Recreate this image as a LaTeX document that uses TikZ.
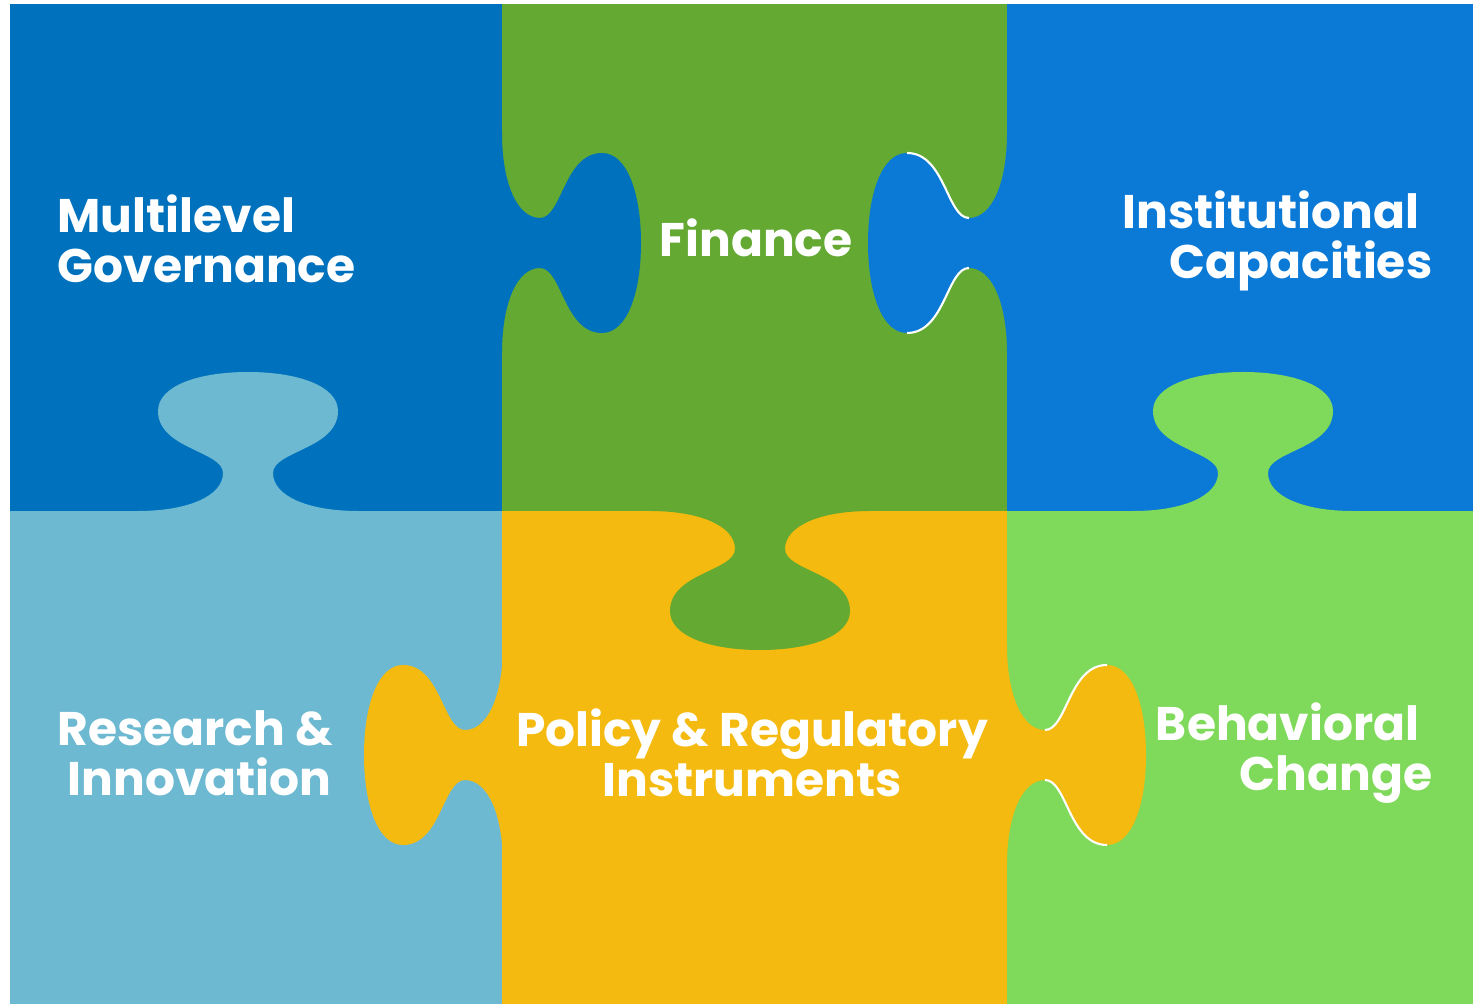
\documentclass[tikz,border=0pt]{standalone}
\usepackage{fontspec}
\setmainfont{Poppins}[BoldFont=* Bold]
\usepackage{tikz}
\usetikzlibrary{positioning,calc}

\definecolor{govblue}{HTML}{0071BC}
\definecolor{fingreen}{HTML}{63A932}
\definecolor{instblue}{HTML}{0B7AD6}
\definecolor{reslight}{HTML}{6DB9D1}
\definecolor{polyellow}{HTML}{F5BA0F}
\definecolor{behgreen}{HTML}{7FD95A}

% one puzzle tab, pointing up, base centred on the origin
\newcommand{\tabshape}{(-110,3) -- (-110,0)
  .. controls (-60,0) and (-25,-15) .. (-25,-38)
  .. controls (-25,-60) and (-90,-62) .. (-90,-100)
  .. controls (-90,-125) and (-50,-139) .. (0,-139)
  .. controls (50,-139) and (90,-125) .. (90,-100)
  .. controls (90,-62) and (25,-60) .. (25,-38)
  .. controls (25,-15) and (60,0) .. (110,0) -- (110,3) -- cycle}
\newcommand{\tabedges}{(-25,-38) .. controls (-25,-60) and (-90,-62) .. (-90,-100)
  (25,-38) .. controls (25,-60) and (90,-62) .. (90,-100)}

\tikzset{
  piecelabel/.style={text=white, inner sep=0pt,
    font=\bfseries\fontsize{13.4pt}{14.2pt}\selectfont},
  hilite/.style={draw=white, line width=0.6pt}
}

\begin{document}
\begin{tikzpicture}[x=0.01cm, y=-0.01cm]
    \useasboundingbox (0,0) rectangle (1473,1004);
    \fill[white] (0,0) rectangle (1473,1004);

    % Pieces
    \fill[govblue]   (10,4)    rectangle (502,511);
    \fill[fingreen]  (502,4)   rectangle (1007,511);
    \fill[instblue]  (1007,4)  rectangle (1473,511);
    \fill[reslight]  (10,511)  rectangle (502,1004);
    \fill[polyellow] (502,511) rectangle (1007,1004);
    \fill[behgreen]  (1007,511) rectangle (1473,1004);

    % Tabs
    \begin{scope}[shift={(248,511)}]
        \fill[reslight] \tabshape;
    \end{scope}
    \begin{scope}[shift={(1243,511)}]
        \fill[behgreen] \tabshape;
    \end{scope}
    \begin{scope}[shift={(502,243)}, rotate=-90]
        \fill[govblue] \tabshape;
    \end{scope}
    \begin{scope}[shift={(1007,243)}, rotate=90]
        \fill[instblue] \tabshape;
        \draw[hilite] \tabedges;
    \end{scope}
    \begin{scope}[shift={(760,511)}, rotate=180]
        \fill[fingreen] \tabshape;
    \end{scope}
    \begin{scope}[shift={(503,755)}, rotate=90]
        \fill[polyellow] \tabshape;
    \end{scope}
    \begin{scope}[shift={(1007,755)}, rotate=-90]
        \fill[polyellow] \tabshape;
        \draw[hilite] \tabedges;
    \end{scope}

    % Labels
    \node[piecelabel, anchor=west, align=left] (gov) at (57,239) {Multilevel\\Governance};
    \node[piecelabel] (fin) at (756,238) {Finance};
    \node[piecelabel, anchor=east, align=right] (inst) at (1433,241) {Institutional\kern0.13cm\\Capacities};
    \node[piecelabel, anchor=west, align=left] (res) at (57,753) {Research \&\\\kern0.1cm Innovation};
    \node[piecelabel, align=center] (pol) at (752,753) {Policy \& Regulatory\\Instruments};
    \node[piecelabel, anchor=east, align=right] (beh) at (1433,753) {Behavioral\kern0.13cm\\Change};
\end{tikzpicture}
\end{document}
